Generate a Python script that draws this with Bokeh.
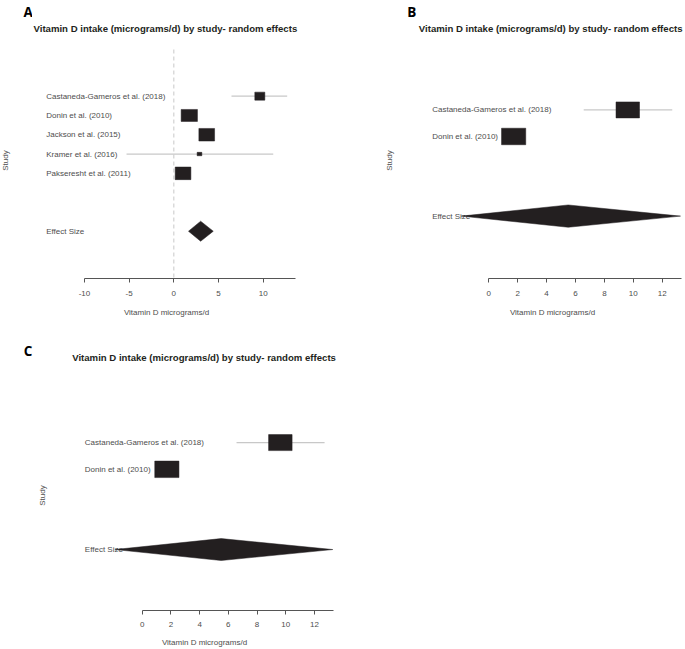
import math
from bokeh.plotting import figure
from bokeh.models import FixedTicker, Range1d, ColumnDataSource, Title
from bokeh.layouts import column, row
from bokeh.core.properties import value
from bokeh.embed import file_html
from bokeh.resources import INLINE

TITLE = "Vitamin D intake (micrograms/d) by study- random effects"
X_LABEL = "Vitamin D micrograms/d"
Y_LABEL = "Study"
POOLED_LABEL = "Effect Size"

# ---- Panel A data (5 studies) ----
a_studies = ["Castaneda-Gameros et al. (2018)", "Donin et al. (2010)",
             "Jackson et al. (2015)", "Kramer et al. (2016)",
             "Pakseresht et al. (2011)"]
a_est = [9.62, 1.73, 3.68, 2.87, 1.03]
a_lo = [6.45, 1.25, 3.15, -5.29, 0.55]
a_hi = [12.68, 2.2, 4.2, 11.12, 1.5]
a_pooled = [3.0]
a_pooled_lo = [1.64]
a_pooled_hi = [4.41]
a_ticks = [-10, -5, 0, 5, 10]

# ---- Panels B and C data (2 studies) ----
bc_studies = ["Castaneda-Gameros et al. (2018)", "Donin et al. (2010)"]
bc_est = [9.62, 1.72]
bc_lo = [6.57, 1.3]
bc_hi = [12.7, 2.15]
bc_pooled = [5.5]
bc_pooled_lo = [-1.9]
bc_pooled_hi = [13.27]
bc_ticks = [0, 2, 4, 6, 8, 10, 12]

# ---- styles (box sizes in px) ----
a_box_w = [10, 16.3, 15.7, 4.7, 15.7]
a_box_h = [8, 12, 12.6, 3.4, 12.6]
b_box_w = [23.5, 24.2]
b_box_h = [16, 16.5]

FONT_NAME = "Liberation Sans"
FONT = value(FONT_NAME)
TXT = "#4d4d4d"
BOX = "#231f20"
CI = "#c8c8c8"


def strip(letter, width, height, letter_xy, study_xy):
    """Narrow side figure holding the panel letter and the 'Study' label."""
    s = figure(width=width, height=height, output_backend="svg",
               toolbar_location=None, title=None, frame_align=False,
               x_range=Range1d(0, width), y_range=Range1d(height, 0),
               min_border_left=0, min_border_right=0,
               min_border_top=0, min_border_bottom=0)
    s.axis.visible = False
    s.grid.visible = False
    s.outline_line_color = None
    s.text(x=[letter_xy[0]], y=[letter_xy[1]], text=[letter],
           text_font=value("Open Sans"), text_font_size="13.5px",
           text_font_style="bold", text_color="#000000",
           text_align="left", text_baseline="alphabetic")
    s.text(x=[study_xy[0]], y=[study_xy[1]], text=[Y_LABEL], angle=math.pi / 2,
           text_font=FONT, text_font_size="8px", text_color=TXT,
           text_align="center", text_baseline="middle")
    return s


def forest(studies, est, lo, hi, pooled, plo, phi, ticks, box_w, box_h,
           width, height, xr, yr, borders, bounds, title_offset, title_standoff,
           diamond_h, label_px, zero_line=False, tick_standoff=8,
           label_standoff=9):
    n = len(studies)
    ys = [n + 3 - i for i in range(n)]
    p = figure(width=width, height=height, output_backend="svg",
               toolbar_location=None, title=None, frame_align=False,
               x_range=Range1d(*xr), y_range=Range1d(*yr),
               min_border_left=borders[0], min_border_right=borders[1],
               min_border_top=borders[2], min_border_bottom=borders[3])
    p.outline_line_color = None
    p.grid.visible = False
    p.background_fill_color = "white"
    p.border_fill_color = "white"
    p.yaxis.visible = False

    fl, ft = borders[0], borders[2]
    fw = width - borders[0] - borders[1]
    fh = height - borders[2] - borders[3]
    sx = fw / (xr[1] - xr[0])
    sy = fh / (yr[1] - yr[0])
    px2x = lambda px: xr[0] + (px - fl) / sx
    py2y = lambda py: yr[1] - (py - ft) / sy

    p.add_layout(Title(text=TITLE, align="left", offset=title_offset,
                       standoff=title_standoff, text_font=FONT_NAME,
                       text_font_size="9.6px", text_font_style="bold",
                       text_color="#231f20"), "above")

    xa = p.xaxis[0]
    xa.ticker = FixedTicker(ticks=ticks)
    xa.major_label_overrides = {t: str(t) for t in ticks}
    xa.bounds = bounds
    xa.axis_label = X_LABEL
    xa.axis_label_text_font = FONT_NAME
    xa.axis_label_text_font_size = "8px"
    xa.axis_label_text_font_style = "normal"
    xa.axis_label_text_color = TXT
    xa.axis_label_standoff = label_standoff
    xa.major_label_text_font = FONT_NAME
    xa.major_label_text_font_size = "8px"
    xa.major_label_text_color = TXT
    xa.major_label_standoff = tick_standoff
    xa.major_tick_out = 4
    xa.major_tick_in = 0
    xa.minor_tick_line_color = None
    xa.axis_line_color = "#555555"
    xa.major_tick_line_color = "#555555"

    if zero_line:
        p.segment(x0=[0], y0=[py2y(49)], x1=[0], y1=[yr[0]],
                  line_color="#c8c8c8", line_width=1, line_dash="4 3")

    src = ColumnDataSource(dict(y=ys, est=est, lo=lo, hi=hi, w=box_w, h=box_h,
                                name=studies))
    lx = px2x(label_px)
    p.text(x=lx, y="y", text="name", source=src, text_font=FONT,
           text_font_size="8px", text_color=TXT, text_align="left",
           text_baseline="middle")
    p.text(x=[lx], y=[1], text=[POOLED_LABEL], text_font=FONT,
           text_font_size="8px", text_color=TXT, text_align="left",
           text_baseline="middle")
    p.segment(x0="lo", y0="y", x1="hi", y1="y", source=src,
              line_color=CI, line_width=1.2)
    p.rect(x="est", y="y", width="w", height="h", source=src,
           width_units="screen", height_units="screen",
           fill_color=BOX, line_color=BOX, line_width=0.5)
    pe, pl, ph = pooled[0], plo[0], phi[0]
    p.patches(xs=[[pl, pe, ph, pe]], ys=[[1, 1 + diamond_h, 1, 1 - diamond_h]],
              fill_color=BOX, line_color=BOX, line_width=0.5)
    return p


# ---------- top row: page x 0..685, y 0..330 ----------
sa = strip("A", 32, 330, letter_xy=(23, 11.7), study_xy=(4.5, 160))
pa = forest(a_studies, a_est, a_lo, a_hi, a_pooled, a_pooled_lo, a_pooled_hi,
            a_ticks, a_box_w, a_box_h, width=308, height=330,
            xr=(-15.81, 14.17), yr=(-1.45, 10.78), borders=(0, 40, 42, 52),
            bounds=(-10, 13.6), title_offset=1, title_standoff=17,
            diamond_h=0.52, label_px=13.7, zero_line=True)

sb = strip("B", 78, 330, letter_xy=(66.7, 11.7), study_xy=(49, 160))
pb = forest(bc_studies, bc_est, bc_lo, bc_hi, bc_pooled, bc_pooled_lo,
            bc_pooled_hi, bc_ticks, b_box_w, b_box_h, width=267, height=330,
            xr=(-4.52, 13.34), yr=(-1.35, 7.54), borders=(5, 4, 42, 52),
            bounds=(0, 13.34), title_offset=-4.7, title_standoff=17,
            diamond_h=0.42, label_px=13.7)

# ---------- bottom row: page x 0..340, y 330..649 ----------
sc = strip("C", 50, 319, letter_xy=(23.3, 20.5), study_xy=(42, 165))
pc = forest(bc_studies, bc_est, bc_lo, bc_hi, bc_pooled, bc_pooled_lo,
            bc_pooled_hi, bc_ticks, b_box_w, b_box_h, width=290, height=319,
            xr=(-4.71, 13.39), yr=(-1.28, 7.36), borders=(24, 6, 49, 39),
            bounds=(0, 13.35), title_offset=-2.3, title_standoff=34,
            diamond_h=0.41, label_px=34.3, tick_standoff=7, label_standoff=8)

layout = column(row(sa, pa, sb, pb), row(sc, pc))
open("out.html", "w").write(file_html(layout, INLINE))
